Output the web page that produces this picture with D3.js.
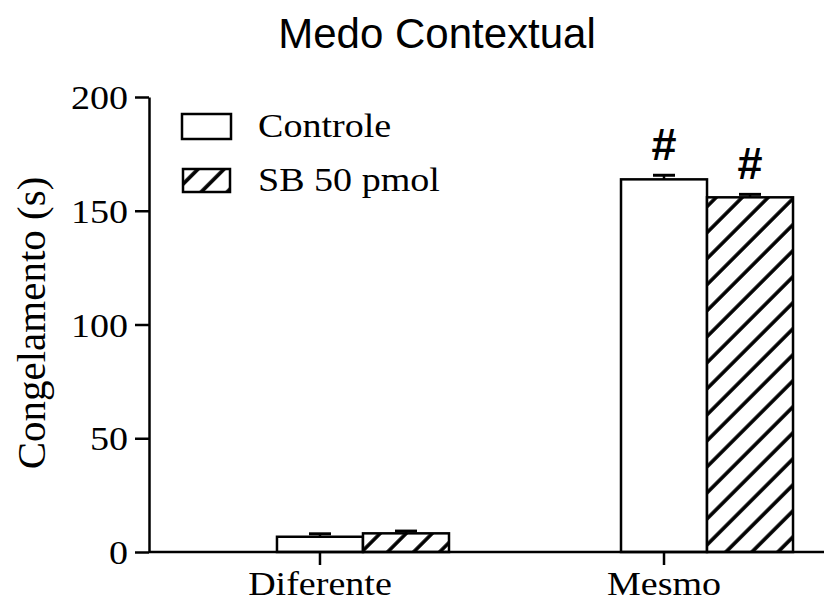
<!DOCTYPE html>
<html>
<head>
<meta charset="utf-8">
<script src="https://cdn.jsdelivr.net/npm/d3@7"></script>
<style>
  html, body { margin: 0; padding: 0; background: #fff; }
  svg { display: block; }
</style>
</head>
<body>
<svg id="chart" width="827" height="602"></svg>
<script>
const categories = ["Diferente", "Mesmo"];
const series = ["Controle", "SB 50 pmol"];
const controleValues = [6.7, 163.8];
const controleErrors = [1.3, 1.8];
const sbValues = [8.2, 155.9];
const sbErrors = [1.0, 1.3];
const significance = [["", ""], ["#", "#"]];
const yTicks = [0, 50, 100, 150, 200];

const svg = d3.select("#chart");
const serif = "'Liberation Serif', 'Times New Roman', serif";
const sans = "'Liberation Sans', Arial, sans-serif";
const SX = 1.12;

const y = d3.scaleLinear().domain([0, 200]).range([552, 97]);
const x = d3.scaleBand().domain(categories).range([149, 921]).paddingInner(0.5).paddingOuter(0.372);
const xs = d3.scaleBand().domain(series).range([0, x.bandwidth()]).padding(0);

const defs = svg.append("defs");
const pat = defs.append("pattern")
  .attr("id", "hatch")
  .attr("patternUnits", "userSpaceOnUse")
  .attr("width", 18.4).attr("height", 18.4)
  .attr("patternTransform", "rotate(45)");
pat.append("rect").attr("width", 18.4).attr("height", 18.4).attr("fill", "#fff");
pat.append("line").attr("x1", 2).attr("y1", 0).attr("x2", 2).attr("y2", 18.4)
  .attr("stroke", "#000").attr("stroke-width", 3.6);

const data = [];
categories.forEach((c, i) => {
  data.push({cat: c, s: series[0], v: controleValues[i], e: controleErrors[i], sig: significance[i][0]});
  data.push({cat: c, s: series[1], v: sbValues[i], e: sbErrors[i], sig: significance[i][1]});
});
const fillFor = s => s === series[0] ? "#fff" : "url(#hatch)";

// error bars
const eb = svg.append("g");
data.forEach(d => {
  const cx = x(d.cat) + xs(d.s) + xs.bandwidth() / 2;
  eb.append("line").attr("x1", cx).attr("x2", cx).attr("y1", y(d.v)).attr("y2", y(d.v + d.e))
    .attr("stroke", "#000").attr("stroke-width", 2.5);
  eb.append("line").attr("x1", cx - 11).attr("x2", cx + 11).attr("y1", y(d.v + d.e)).attr("y2", y(d.v + d.e))
    .attr("stroke", "#000").attr("stroke-width", 3);
});

// bars
svg.append("g").selectAll("rect").data(data).join("rect")
  .attr("x", d => x(d.cat) + xs(d.s))
  .attr("y", d => y(d.v))
  .attr("width", xs.bandwidth())
  .attr("height", d => y(0) - y(d.v))
  .attr("fill", d => fillFor(d.s))
  .attr("stroke", "#000").attr("stroke-width", 2.5);

// significance marks
svg.append("g").selectAll("text").data(data.filter(d => d.sig)).join("text")
  .attr("x", d => x(d.cat) + xs(d.s) + xs.bandwidth() / 2)
  .attr("y", d => y(d.v + d.e) - 15)
  .attr("text-anchor", "middle")
  .attr("font-family", sans).attr("font-weight", "bold").attr("font-size", 45)
  .text(d => d.sig);

// y axis
const yAxis = svg.append("g").attr("transform", "translate(149,0)")
  .call(d3.axisLeft(y).tickValues(yTicks).tickSize(14).tickSizeOuter(0).tickFormat(d3.format("d")));
yAxis.select(".domain").attr("stroke-width", 2.5);
yAxis.selectAll(".tick line").attr("stroke-width", 2.5);
yAxis.selectAll(".tick text")
  .attr("x", 0).attr("dy", "0.34em")
  .attr("transform", "translate(-21,0) scale(" + SX + ",1)")
  .attr("font-family", serif).attr("font-size", 34).attr("fill", "#000");

// x axis line
svg.append("line").attr("x1", 149).attr("x2", 824).attr("y1", y(0)).attr("y2", y(0))
  .attr("stroke", "#000").attr("stroke-width", 2.5);

// x ticks and labels (centered on first series bar)
categories.forEach(c => {
  const tx = x(c) + xs(series[0]) + xs.bandwidth() / 2;
  svg.append("line").attr("x1", tx).attr("x2", tx).attr("y1", y(0)).attr("y2", y(0) + 13)
    .attr("stroke", "#000").attr("stroke-width", 2.5);
  svg.append("text")
    .attr("transform", `translate(${tx},595) scale(${SX},1)`)
    .attr("text-anchor", "middle")
    .attr("font-family", serif).attr("font-size", 34)
    .text(c);
});

// y label
svg.append("text")
  .attr("transform", "translate(45,323) rotate(-90)")
  .attr("text-anchor", "middle")
  .attr("font-family", serif).attr("font-size", 41)
  .text("Congelamento (s)");

// title
svg.append("text")
  .attr("x", 437).attr("y", 48)
  .attr("text-anchor", "middle")
  .attr("font-family", sans).attr("font-size", 42)
  .text("Medo Contextual");

// legend
const legend = [
  {s: series[0], bx: 182, by: 114, bw: 49, bh: 25, ty: 137},
  {s: series[1], bx: 183, by: 169, bw: 47, bh: 23, ty: 191}
];
legend.forEach(l => {
  svg.append("rect").attr("x", l.bx).attr("y", l.by).attr("width", l.bw).attr("height", l.bh)
    .attr("fill", fillFor(l.s)).attr("stroke", "#000").attr("stroke-width", 2.5);
  svg.append("text")
    .attr("transform", `translate(258,${l.ty}) scale(${SX},1)`)
    .attr("font-family", serif).attr("font-size", 34)
    .text(l.s);
});
</script>
</body>
</html>
